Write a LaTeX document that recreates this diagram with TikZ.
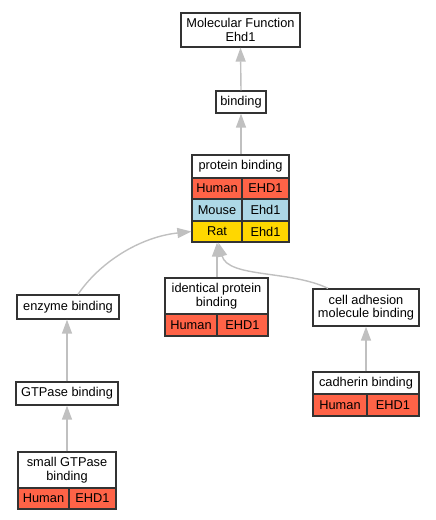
\documentclass[tikz,border=0pt]{standalone}
\usepackage{fontspec}
\setmainfont{Liberation Sans}
\usetikzlibrary{arrows.meta}
\definecolor{human}{HTML}{FF6347}
\definecolor{mouse}{HTML}{ADD8E6}
\definecolor{rat}{HTML}{FFD700}
\definecolor{edgegray}{HTML}{C0C0C0}
\definecolor{border}{HTML}{333333}
\begin{document}
\begin{tikzpicture}[x=1pt,y=-1pt,
  box/.style={draw=border, line width=1.3pt, fill=white, inner sep=0pt, align=center,
    font=\fontsize{12.8}{13.5}\selectfont},
  cell/.style={box, minimum height=21pt},
  hum/.style={cell, fill=human},
  mou/.style={cell, fill=mouse},
  ratc/.style={cell, fill=rat},
  edge/.style={draw=edgegray, line width=1.4pt, -{Triangle[length=14pt,width=10pt]}}
]
\useasboundingbox (0,0) rectangle (436,520);
% top
\node[box, minimum width=119pt, minimum height=34pt] (mf) at (240.5,30) {Molecular Function\\Ehd1};
\node[box, minimum width=50pt, minimum height=22pt] (bind) at (241,102) {binding};
% protein binding table
\node[box, minimum width=97pt, minimum height=23pt] (pb) at (240.5,166.5) {protein binding};
\node[hum, minimum width=50pt] (humL) at (217,188.5) {Human};
\node[hum, minimum width=47pt] (humR) at (265.5,188.5) {EHD1};
\node[mou, minimum width=50pt] (mouL) at (217,210) {Mouse};
\node[mou, minimum width=47pt] (mouR) at (265.5,210) {Ehd1};
\node[ratc, minimum width=50pt] (ratL) at (217,231.5) {Rat};
\node[ratc, minimum width=47pt] (ratR) at (265.5,231.5) {Ehd1};
% identical protein binding
\node[box, minimum width=103pt, minimum height=36pt] (ipb) at (216.5,296) {identical protein\\binding};
\node[hum, minimum width=52pt, minimum height=22pt] (ipbL) at (191,325) {Human};
\node[hum, minimum width=51pt, minimum height=22pt] (ipbR) at (242.5,325) {EHD1};
% enzyme / GTPase
\node[box, minimum width=102pt, minimum height=24pt] (enz) at (68,307) {enzyme binding};
\node[box, minimum width=102pt, minimum height=23pt] (gtp) at (67,393.5) {GTPase binding};
\node[box, minimum width=98pt, minimum height=36pt] (sg) at (67,470) {small GTPase\\binding};
\node[hum, minimum width=51pt] (sgL) at (43.5,498.5) {Human};
\node[hum, minimum width=47pt] (sgR) at (92.5,498.5) {EHD1};
% cell adhesion / cadherin
\node[box, minimum width=106pt, minimum height=37pt] (cam) at (366,307.5) {cell adhesion\\molecule binding};
\node[box, minimum width=106pt, minimum height=22pt] (cad) at (366,383) {cadherin binding};
\node[hum, minimum width=54pt, minimum height=22pt] (cadL) at (340,405) {Human};
\node[hum, minimum width=52pt, minimum height=22pt] (cadR) at (393,405) {EHD1};
% edges
\draw[edge] (bind.north) -- (mf.south);
\draw[edge] (pb.north -| bind.north) -- (bind.south);
\draw[edge] ([xshift=10pt]enz.north) .. controls (100,262) and (140,237) .. (ratL.west);
\draw[edge] (ratL.south |- ipb.north) -- (ratL.south);
\draw[edge] ([xshift=-38pt]cam.north) .. controls (290,270) and (228,278) .. ([xshift=1.5pt]ratL.south);
\draw[edge] (gtp.north) -- (gtp.north |- enz.south);
\draw[edge] (sg.north) -- (gtp.south);
\draw[edge] (cad.north) -- (cam.south);
\end{tikzpicture}
\end{document}
